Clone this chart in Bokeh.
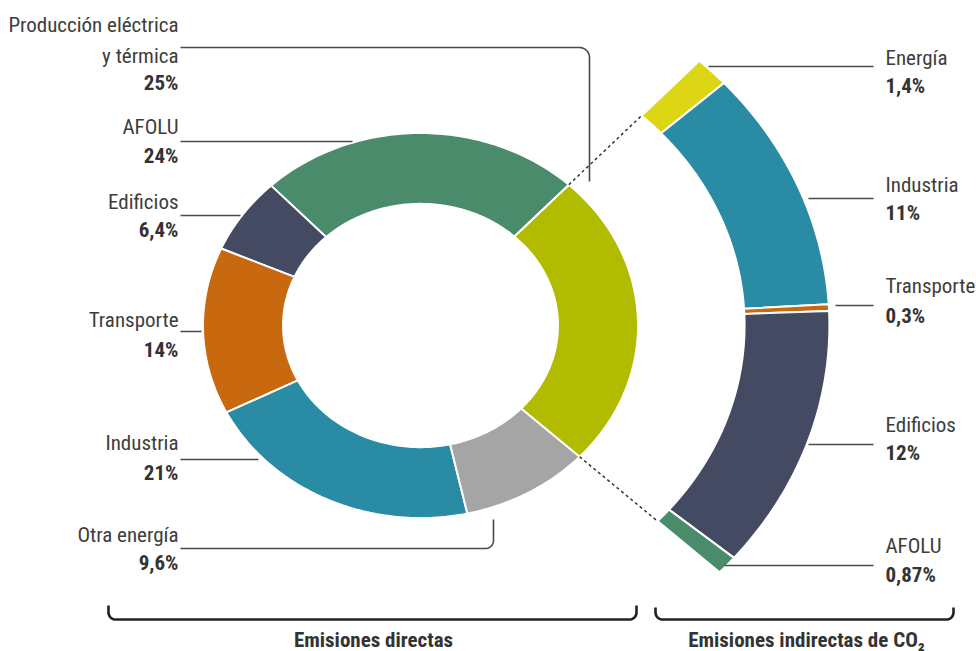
import numpy as np
from bokeh.plotting import figure
from bokeh.models import Range1d
from bokeh.embed import file_html
from bokeh.resources import INLINE
from bokeh.core.properties import value

# ---------------- data ----------------
direct_names = ["Producción eléctrica y térmica", "AFOLU", "Edificios", "Transporte", "Industria", "Otra energía"]
direct_values = [25, 24, 6.4, 14, 21, 9.6]
direct_pct = ["25%", "24%", "6,4%", "14%", "21%", "9,6%"]
direct_colors = ["#B1BB00", "#4A8B6B", "#444A62", "#C8690F", "#2A8BA4", "#A5A5A5"]

indirect_names = ["Energía", "Industria", "Transporte", "Edificios", "AFOLU"]
indirect_values = [1.4, 11, 0.3, 12, 0.87]
indirect_pct = ["1,4%", "11%", "0,3%", "12%", "0,87%"]
indirect_colors = ["#DDD614", "#2A8BA4", "#C8690F", "#444A62", "#4A8B6B"]

group_titles = ["Emisiones directas", "Emisiones indirectas de CO₂"]

# ---------------- layout (picture pixels, y downward -> data y = -y) ----------------
W, H = 976, 651
CX, CY = 420.0, -325.0     # donut centre
RX, RY = 217.5, 192.5      # outer radii of the donut (screen px)
R_IN = 0.632
R2_IN, R2_OUT = 1.49, 1.88
START = 47.0               # where AFOLU segment starts (deg)

FONT = value("'Roboto Condensed', Roboto")
FS = "21px"
TXT = "#3d3d3d"
LINE = "#4a4a4a"
DY = 8                     # baseline correction for text rendering

p = figure(width=W, height=H, output_backend="svg", toolbar_location=None,
           x_range=Range1d(0, W), y_range=Range1d(-H, 0),
           min_border=0, min_border_left=0, min_border_right=0,
           min_border_top=0, min_border_bottom=0)
p.axis.visible = False
p.grid.visible = False
p.outline_line_color = None
p.background_fill_color = "white"
p.border_fill_color = "white"


def arc(r, a0, a1, n=80):
    a = np.radians(np.linspace(a0, a1, n))
    return CX + r * RX * np.cos(a), CY + r * RY * np.sin(a)


def ring(r0, r1, a0, a1):
    xo, yo = arc(r1, a0, a1)
    xi, yi = arc(r0, a1, a0)
    return list(np.concatenate([xo, xi])), list(np.concatenate([yo, yi]))


# left donut: Producción ends at START, the rest follow counter-clockwise
total = sum(direct_values)
angles = []
a = START - direct_values[0] / total * 360.0
for v in direct_values:
    span = v / total * 360.0
    angles.append((a, a + span))
    a += span

xs, ys = [], []
for a0, a1 in angles:
    x, y = ring(R_IN, 1.0, a0, a1)
    xs.append(x)
    ys.append(y)
p.patches(xs, ys, fill_color=direct_colors, line_color="white", line_width=2)

# right ring: same angular span as Producción, clockwise from top
top_a, bot_a = angles[0][1], angles[0][0]
tot2 = sum(indirect_values)
xs, ys = [], []
a = top_a
for v in indirect_values:
    span = v / tot2 * (top_a - bot_a)
    x, y = ring(R2_IN, R2_OUT, a - span, a)
    xs.append(x)
    ys.append(y)
    a -= span
p.patches(xs, ys, fill_color=indirect_colors, line_color="white", line_width=2)

# dashed connectors
for ang in (top_a, bot_a):
    x, y = arc(1.0, ang, ang, 2)
    x2, y2 = arc(R2_IN, ang, ang, 2)
    p.line([x[0], x2[0]], [y[0], y2[0]], line_color="#333333", line_width=1.5, line_dash="3 3")


def corner(cx, cy, r, a0, a1, n=12):
    t = np.radians(np.linspace(a0, a1, n))
    return list(cx + r * np.cos(t)), list(cy + r * np.sin(t))


def pts(seq):
    return [q[0] for q in seq], [-q[1] for q in seq]


# leader lines
leaders = []
cx_, cy_ = corner(579, -57, 10, 90, 0)
leaders.append(([180] + cx_ + [589], [-47] + cy_ + [-181]))
leaders.append(pts([(180, 141), (352, 141)]))
leaders.append(pts([(180, 215), (240, 215)]))
leaders.append(pts([(180, 331), (201, 331)]))
leaders.append(pts([(180, 459), (258, 459)]))
cx_, cy_ = corner(485, -540, 8, -90, 0)
leaders.append(([180] + cx_ + [493], [-548] + cy_ + [-519]))
leaders.append(pts([(708, 66), (873, 66)]))
leaders.append(pts([(808, 198), (873, 198)]))
leaders.append(pts([(835, 305), (873, 305)]))
leaders.append(pts([(808, 444), (873, 444)]))
leaders.append(pts([(724, 565), (873, 565)]))
p.multi_line([l[0] for l in leaders], [l[1] for l in leaders], line_color=LINE, line_width=1.6)


def brace(x0, x1, ytop, ybot, r=7):
    c1x, c1y = corner(x0 + r, -(ybot - r), r, 180, 270)
    c2x, c2y = corner(x1 - r, -(ybot - r), r, 270, 360)
    return [x0] + c1x + c2x + [x1], [-ytop] + c1y + c2y + [-ytop]


bx, by = [], []
for x0, x1, yt in ((108, 636, 605), (655, 953, 607)):
    a_, b_ = brace(x0, x1, yt, 619)
    bx.append(a_)
    by.append(b_)
p.multi_line(bx, by, line_color="#222222", line_width=2.6)

# labels
left_lines = [["Producción eléctrica", "y térmica"], ["AFOLU"], ["Edificios"], ["Transporte"], ["Industria"], ["Otra energía"]]
left_base = [[32, 63], [134], [209], [327], [450], [542]]
left_pct_base = [90, 163, 237, 357, 480, 570]

tx, ty, tt = [], [], []
for lines, bases in zip(left_lines, left_base):
    for s, b in zip(lines, bases):
        tx.append(178); ty.append(-(b - DY)); tt.append(s)
p.text(tx, ty, text=tt, text_align="right", text_baseline="alphabetic",
       text_font=FONT, text_font_size=FS, text_color=TXT)
p.text([178] * len(direct_pct), [-(b - DY) for b in left_pct_base], text=direct_pct,
       text_align="right", text_baseline="alphabetic", text_font=FONT,
       text_font_size=FS, text_font_style="bold", text_color="#333333")

right_base = [65, 192, 293, 432, 553]
right_pct_base = [93, 220, 323, 460, 582]
p.text([885] * 5, [-(b - DY) for b in right_base], text=indirect_names, text_align="left",
       text_baseline="alphabetic", text_font=FONT, text_font_size=FS, text_color=TXT)
p.text([885] * 5, [-(b - DY) for b in right_pct_base], text=indirect_pct, text_align="left",
       text_baseline="alphabetic", text_font=FONT, text_font_size=FS,
       text_font_style="bold", text_color="#333333")

p.text([373, 806], [-(647 - DY), -(647 - DY)], text=group_titles, text_align="center",
       text_baseline="alphabetic", text_font=FONT, text_font_size=FS,
       text_font_style="bold", text_color="#333333")

open("out.html", "w").write(file_html(p, INLINE))
